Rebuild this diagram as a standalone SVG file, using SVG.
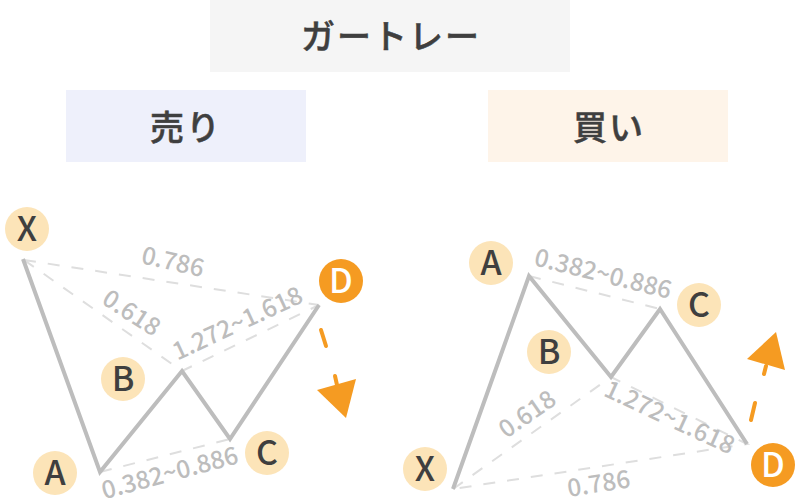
<svg xmlns="http://www.w3.org/2000/svg" width="800" height="500" viewBox="0 0 800 500">
<style>
text{font-family:"Noto Sans CJK JP","Noto Sans",sans-serif;text-anchor:middle}
.h{font-size:34px;font-weight:500;fill:#3f3f3f;stroke:#3f3f3f;stroke-width:.5px;letter-spacing:2px}
.n{font-size:34px;font-weight:500;fill:#3f3f3f}
.c{fill:#fce4b8}
.d{fill:#f59b22}
.l{font-size:24.5px;fill:#bdbdbd;font-weight:500}
.p{fill:none;stroke:#bdbdbd;stroke-width:4;stroke-linejoin:miter}
.q{fill:none;stroke:#dedede;stroke-width:2;stroke-dasharray:12 12}
.o{fill:none;stroke:#f59b22;stroke-width:4;stroke-linecap:round}
</style>
<rect width="800" height="500" fill="#fff"/>
<g id="title"><rect x="210" y="0" width="360" height="72" fill="#f5f5f5"/><text class="h" x="391" y="49">ガートレー</text></g>
<g id="sell"><rect x="66" y="90" width="240" height="72" fill="#eef0fb"/><text class="h" x="186" y="140">売り</text></g>
<g id="buy"><rect x="488" y="90" width="240" height="72" fill="#fef4e9"/><text class="h" x="609" y="140">買い</text></g>
<g id="connectors">
<path class="q" d="M24 260L319 305M24 260L182 371L319 305M100 472L230 439"/>
<path class="p" d="M23 259L100 472L182 371L230 439L319 305"/>
<path class="o" d="M321 330L326 346M335 376L337 385"/>
<polygon class="d" points="317,390 356,379 346,418"/>
<path class="q" d="M453 489L611 377L747 444L453 489M529 276L660 309"/>
<path class="p" d="M453 489L529 276L611 377L660 309L747 444"/>
<path class="o" d="M751 420L755 403M764 374L766 366"/>
<polygon class="d" points="747,359 776,332 785,370"/>
</g>
<g id="labels">
<text class="l" transform="translate(171 270) rotate(13)">0.786</text>
<text class="l" transform="translate(127 320) rotate(33)">0.618</text>
<text class="l" transform="translate(241 331) rotate(-25)">1.272~1.618</text>
<text class="l" transform="translate(172 481) rotate(-15)">0.382~0.886</text>
<text class="l" transform="translate(601 282) rotate(14)">0.382~0.886</text>
<text class="l" transform="translate(532 421) rotate(-35)">0.618</text>
<text class="l" transform="translate(666 425) rotate(25)">1.272~1.618</text>
<text class="l" transform="translate(600 492) rotate(-9)">0.786</text>
</g>
<g id="sell-X"><circle class="c" cx="27" cy="229" r="22"/><text class="n" x="27" y="241">X</text></g>
<g id="sell-A"><circle class="c" cx="55" cy="473" r="22"/><text class="n" x="55" y="485">A</text></g>
<g id="sell-B"><circle class="c" cx="123" cy="379" r="22"/><text class="n" x="123" y="391">B</text></g>
<g id="sell-C"><circle class="c" cx="267" cy="453" r="22"/><text class="n" x="267" y="465">C</text></g>
<g id="sell-D"><circle class="d" cx="341" cy="281" r="22"/><text class="n" x="341" y="293" style="fill:#fff">D</text></g>
<g id="buy-X"><circle class="c" cx="425" cy="469" r="22"/><text class="n" x="425" y="481">X</text></g>
<g id="buy-A"><circle class="c" cx="491" cy="263" r="22"/><text class="n" x="491" y="275">A</text></g>
<g id="buy-B"><circle class="c" cx="549" cy="352" r="22"/><text class="n" x="549" y="364">B</text></g>
<g id="buy-C"><circle class="c" cx="699" cy="305" r="22"/><text class="n" x="699" y="317">C</text></g>
<g id="buy-D"><circle class="d" cx="773" cy="465" r="22"/><text class="n" x="773" y="477" style="fill:#fff">D</text></g>
</svg>
